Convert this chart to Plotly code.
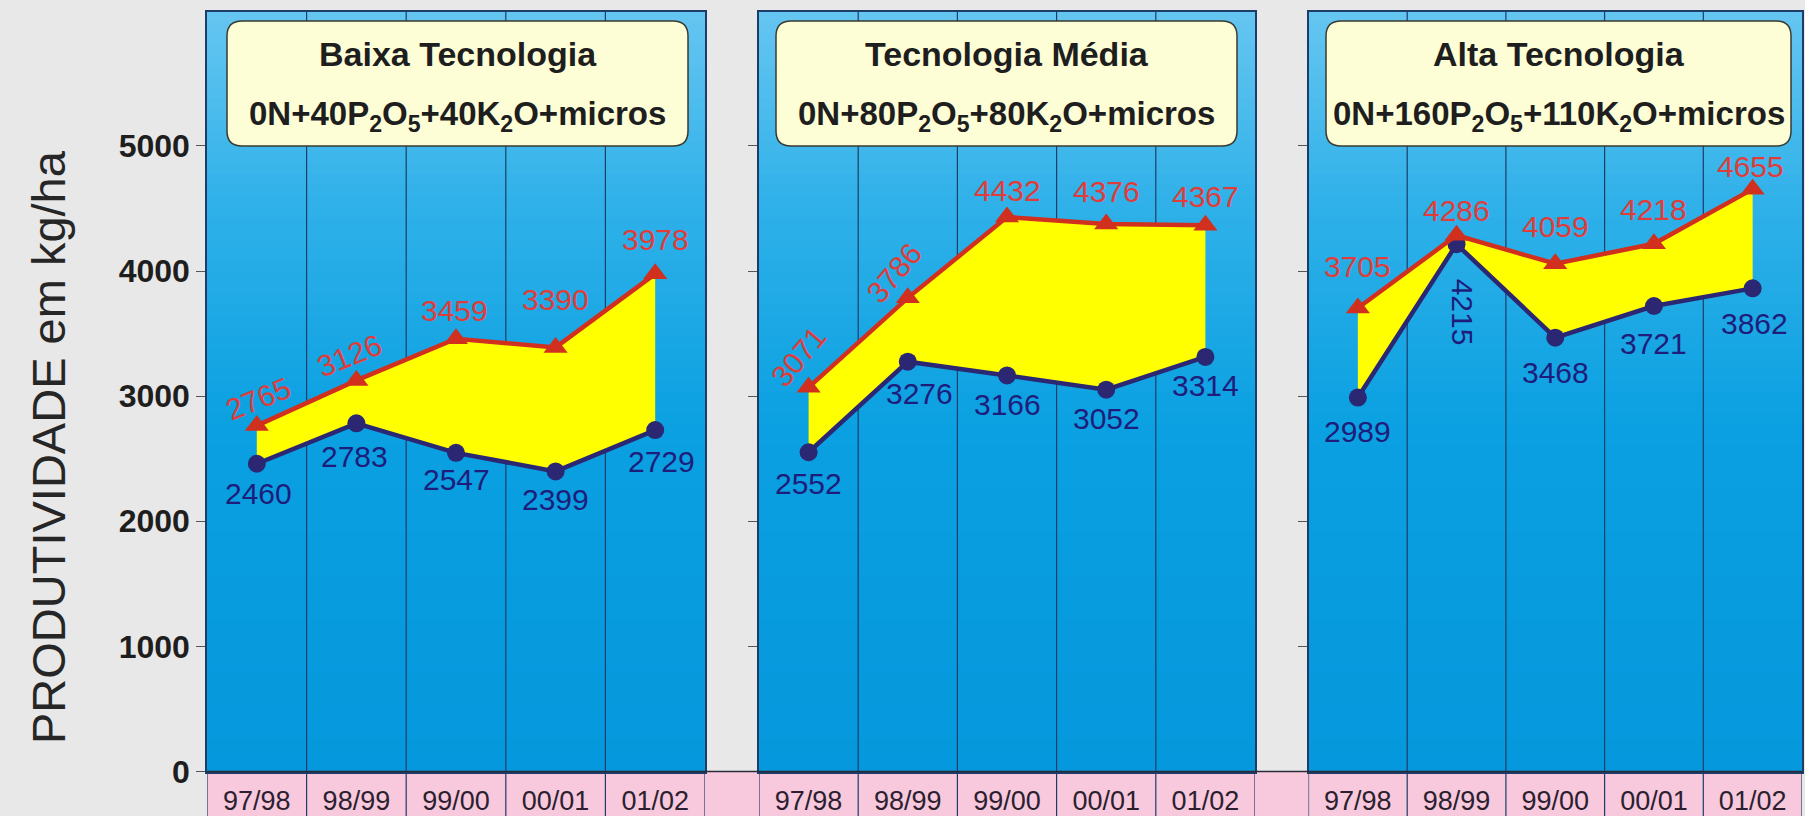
import plotly.graph_objects as go

# ---- data -------------------------------------------------------------
seasons = ["97/98", "98/99", "99/00", "00/01", "01/02"]

panel_titles = ["Baixa Tecnologia", "Tecnologia Média", "Alta Tecnologia"]
panel_doses = [
    "0N+40P<sub>2</sub>O<sub>5</sub>+40K<sub>2</sub>O+micros",
    "0N+80P<sub>2</sub>O<sub>5</sub>+80K<sub>2</sub>O+micros",
    "0N+160P<sub>2</sub>O<sub>5</sub>+110K<sub>2</sub>O+micros",
]

upper_baixa = [2765, 3126, 3459, 3390, 3978]
lower_baixa = [2460, 2783, 2547, 2399, 2729]
upper_media = [3071, 3786, 4432, 4376, 4367]
lower_media = [2552, 3276, 3166, 3052, 3314]
upper_alta = [3705, 4286, 4059, 4218, 4655]
lower_alta = [2989, 4215, 3468, 3721, 3862]

y_ticks = [0, 1000, 2000, 3000, 4000, 5000]
y_title = "PRODUTIVIDADE em kg/ha"

# ---- styling ----------------------------------------------------------
W, H = 1805, 816
PANEL_PX = [(207, 705), (759, 1255), (1308.5, 1802)]
BOX_PX = [(227, 688), (776, 1237), (1326, 1791)]
BOX_Y_PX = (21, 146)
Y_BOTTOM_PX, Y_TOP_PX = 771.5, 11.5
Y_MAX = 6075

RED = "#d2301e"
RED_TXT = "#e03c3a"
NAVY = "#2b2773"
NAVY_TXT = "#1f1d7c"
YELLOW = "#ffff00"
GRID = "#1d3c68"
PINK = "#f8c8dc"
BG = "#e8e8e8"
FONT = "Liberation Sans, Arial, sans-serif"

# label offsets (px) and angles: (dx, dy, angle)
upper_lbl = [
    [(2, -27, -22), (-7, -25, -22), (-2, -28, 0), (0, -48, 0), (0, -34, 0)],
    [(-10, -31, -50), (-13, -25, -50), (0, -27, 0), (0, -33, 0), (0, -29, 0)],
    [(0, -41, 0), (0, -25, 0), (0, -37, 0), (0, -34, 0), (-2, -23, 0)],
]
lower_lbl = [
    [(2, 30, 0), (-2, 33, 0), (0, 27, 0), (0, 28, 0), (6, 31, 0)],
    [(0, 31, 0), (12, 32, 0), (0, 29, 0), (0, 29, 0), (0, 29, 0)],
    [(0, 34, 0), (6, 68, 90), (0, 35, 0), (0, 38, 0), (2, 35, 0)],
]

series = [(upper_baixa, lower_baixa), (upper_media, lower_media), (upper_alta, lower_alta)]

y_dom = [(H - Y_BOTTOM_PX) / H, (H - Y_TOP_PX) / H]
x_idx = list(range(len(seasons)))

fig = go.Figure()
shapes = []
annotations = []

# pink strip holding the season labels, spanning all panels
shapes.append(dict(type="rect", xref="paper", yref="paper",
                   x0=PANEL_PX[0][0] / W, x1=PANEL_PX[-1][1] / W, y0=-0.01, y1=y_dom[0],
                   fillcolor=PINK, line_width=0, layer="below"))

# vertical gradient stops for the panel backgrounds (bottom -> top)
grad = [(0.0, (0x05, 0x98, 0xdc)), (0.45, (0x0a, 0xa0, 0xe1)),
        (0.75, (0x30, 0xb1, 0xe9)), (1.0, (0x66, 0xc6, 0xf1))]


def grad_color(t):
    for (t0, c0), (t1, c1) in zip(grad[:-1], grad[1:]):
        if t0 <= t <= t1:
            f = (t - t0) / (t1 - t0)
            return "rgb(%d,%d,%d)" % tuple(round(a + (b - a) * f) for a, b in zip(c0, c1))
    return "rgb(%d,%d,%d)" % grad[-1][1]


N_BANDS = 70
for p, ((px0, px1), (upper, lower)) in enumerate(zip(PANEL_PX, series)):
    n = "" if p == 0 else str(p + 1)
    xa, ya = "x" + n, "y" + n

    for b in range(N_BANDS):
        shapes.append(dict(type="rect", xref=xa + " domain", yref=ya + " domain",
                           x0=0, x1=1, y0=b / N_BANDS, y1=(b + 1) / N_BANDS + 0.002,
                           fillcolor=grad_color((b + 0.5) / N_BANDS), line_width=0,
                           layer="below"))
    # cell dividers through the plot and the label strip
    for k in range(len(seasons) - 1):
        shapes.append(dict(type="line", xref=xa, yref="paper", x0=k + 0.5, x1=k + 0.5,
                           y0=-0.01, y1=y_dom[1], line=dict(color=GRID, width=1.2),
                           layer="below"))
    for edge in (-0.5, len(seasons) - 0.5):
        shapes.append(dict(type="line", xref=xa, yref="paper", x0=edge, x1=edge,
                           y0=-0.01, y1=y_dom[0], line=dict(color=GRID, width=1.2),
                           layer="below"))

    # yellow band between the two curves
    fig.add_trace(go.Scatter(x=x_idx + x_idx[::-1], y=upper + lower[::-1],
                             fill="toself", fillcolor=YELLOW, mode="none",
                             xaxis=xa, yaxis=ya, showlegend=False, hoverinfo="skip"))
    fig.add_trace(go.Scatter(x=x_idx, y=lower, mode="lines+markers",
                             line=dict(color=NAVY, width=4.5),
                             marker=dict(symbol="circle", size=18, color=NAVY),
                             xaxis=xa, yaxis=ya, showlegend=False))
    fig.add_trace(go.Scatter(x=x_idx, y=upper, mode="lines+markers",
                             line=dict(color=RED, width=4.5),
                             marker=dict(symbol="triangle-up", size=21, color=RED),
                             xaxis=xa, yaxis=ya, showlegend=False))

    for i, v in enumerate(upper):
        dx, dy, ang = upper_lbl[p][i]
        annotations.append(dict(x=i, y=v, xref=xa, yref=ya, text=str(v), showarrow=False,
                                xanchor="center", yanchor="middle",
                                xshift=dx, yshift=-dy, textangle=ang,
                                font=dict(family=FONT, size=30, color=RED_TXT)))
    for i, v in enumerate(lower):
        dx, dy, ang = lower_lbl[p][i]
        annotations.append(dict(x=i, y=v, xref=xa, yref=ya, text=str(v), showarrow=False,
                                xanchor="center", yanchor="middle",
                                xshift=dx, yshift=-dy, textangle=ang,
                                font=dict(family=FONT, size=30, color=NAVY_TXT)))

    # rounded title box
    bx0, bx1 = BOX_PX[p][0] / W, BOX_PX[p][1] / W
    by0, by1 = 1 - BOX_Y_PX[1] / H, 1 - BOX_Y_PX[0] / H
    rx, ry = 15 / W, 15 / H
    path = (f"M {bx0 + rx},{by0} L {bx1 - rx},{by0} Q {bx1},{by0} {bx1},{by0 + ry} "
            f"L {bx1},{by1 - ry} Q {bx1},{by1} {bx1 - rx},{by1} "
            f"L {bx0 + rx},{by1} Q {bx0},{by1} {bx0},{by1 - ry} "
            f"L {bx0},{by0 + ry} Q {bx0},{by0} {bx0 + rx},{by0} Z")
    shapes.append(dict(type="path", xref="paper", yref="paper", path=path,
                       fillcolor="#fdfdd6", line=dict(color="#3a3a30", width=1.5),
                       layer="above"))
    cx = (bx0 + bx1) / 2
    annotations.append(dict(x=cx, y=1 - 54 / H, xref="paper", yref="paper",
                            xanchor="center", yanchor="middle",
                            text=panel_titles[p], showarrow=False,
                            font=dict(family=FONT, size=34, color="#1e1e1e", weight="bold")))
    annotations.append(dict(x=cx, y=1 - 116 / H, xref="paper", yref="paper",
                            xanchor="center", yanchor="middle",
                            text=panel_doses[p], showarrow=False,
                            font=dict(family=FONT, size=33, color="#1e1e1e", weight="bold")))

    fig.update_layout(**{
        ("xaxis" + n): dict(domain=[px0 / W, px1 / W], range=[-0.5, len(seasons) - 0.5],
                            tickvals=x_idx, ticktext=seasons, showgrid=False, zeroline=False,
                            ticks="", ticklabelstandoff=4, showline=True, mirror=True,
                            linecolor=GRID, linewidth=1.5, fixedrange=True, automargin=False,
                            tickfont=dict(family=FONT, size=27, color="#2b1f30")),
        ("yaxis" + n): dict(domain=y_dom, range=[0, Y_MAX], tickvals=y_ticks,
                            showgrid=False, zeroline=False, ticks="outside", ticklen=9,
                            tickcolor="#555555", showticklabels=(p == 0),
                            showline=True, mirror=True, linecolor=GRID, linewidth=1.5,
                            fixedrange=True, automargin=False, anchor="x" + n,
                            tickfont=dict(family=FONT, size=32, color="#1e1e1e",
                                          weight="bold")),
    })
    fig.layout["xaxis" + n].anchor = "y" + n

# baseline running under all three panels
shapes.append(dict(type="line", xref="paper", yref="paper",
                   x0=PANEL_PX[0][0] / W, x1=PANEL_PX[-1][1] / W, y0=y_dom[0], y1=y_dom[0],
                   line=dict(color="#2a2a3a", width=1.5), layer="above"))

annotations.append(dict(x=48 / W, y=1 - 447 / H, xref="paper", yref="paper", text=y_title,
                        xanchor="center", yanchor="middle",
                        textangle=-90, showarrow=False,
                        font=dict(family=FONT, size=47, color="#262626")))

fig.update_layout(width=W, height=H, margin=dict(l=0, r=0, t=0, b=0, autoexpand=False),
                  paper_bgcolor=BG, plot_bgcolor="rgba(0,0,0,0)",
                  shapes=shapes, annotations=annotations, showlegend=False)

fig.write_html("out.html", config={"displayModeBar": False})
